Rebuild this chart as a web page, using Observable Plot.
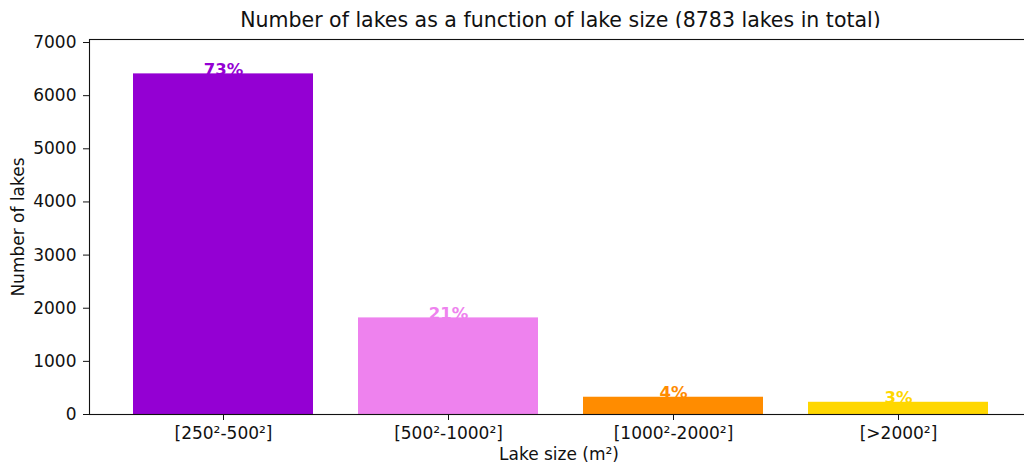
<!DOCTYPE html>
<html>
<head>
<meta charset="utf-8">
<script src="https://cdn.jsdelivr.net/npm/d3@7"></script>
<script src="https://cdn.jsdelivr.net/npm/@observablehq/plot@0.6"></script>
<style>
  html, body { margin: 0; padding: 0; background: #fff; overflow: hidden; }
  #wrap { width: 1024px; height: 465px; overflow: hidden; position: relative; font-family: "DejaVu Sans", sans-serif; }
  #title { position: absolute; left: 89px; width: 943px; top: 0; height: 28px; line-height: 41px; text-align: center; font-size: 20.5px; color: #111; white-space: nowrap; }
  #chart { position: absolute; left: 0; top: 28px; width: 1040px; }
  #chart svg { max-width: none !important; }
</style>
</head>
<body>
<div id="wrap">
  <div id="title">Number of lakes as a function of lake size (8783 lakes in total)</div>
  <div id="chart"></div>
</div>
<script>
const categories = ["[250²-500²]", "[500²-1000²]", "[1000²-2000²]", "[>2000²]"];
const counts = [6410, 1818, 325, 230];
const colors = ["#9400D3", "#EE82EE", "#FF8C00", "#FFD700"];
const yTicks = [0, 1000, 2000, 3000, 4000, 5000, 6000, 7000];
const total = 8783;

const data = categories.map((c, i) => ({
  cat: c,
  count: counts[i],
  pct: Math.round(counts[i] / total * 100) + "%"
}));

const chart = Plot.plot({
  width: 1040,
  height: 437,
  marginLeft: 89,
  marginRight: 8,
  marginTop: 11,
  marginBottom: 51,
  style: { fontFamily: "DejaVu Sans, sans-serif", fontSize: "17px", color: "#111", background: "white", overflow: "visible", maxWidth: "none" },
  x: { domain: categories, paddingInner: 0.2, paddingOuter: 0.19, label: null },
  y: { domain: [0, 7057], label: null },
  color: { domain: categories, range: colors },
  marks: [
    Plot.barY(data, { x: "cat", y: "count", fill: "cat" }),
    Plot.text(data, { x: "cat", y: "count", text: "pct", fill: "cat", fontWeight: "bold", fontSize: 16.5, lineAnchor: "bottom", dy: 1 }),
    Plot.frame({ stroke: "#111", strokeWidth: 1.1 }),
    Plot.axisY({ ticks: yTicks, tickFormat: d3.format("d"), tickSize: 6, tickPadding: 7, label: null, fontSize: 17 }),
    Plot.axisX({ tickSize: 6, tickPadding: 6, label: null, fontSize: 17 }),
    Plot.text(["Number of lakes"], { frameAnchor: "left", textAnchor: "middle", rotate: -90, dx: -71, fontSize: 17, fill: "#111" }),
    Plot.text(["Lake size (m²)"], { frameAnchor: "bottom", dy: 45, fontSize: 17, fill: "#111", dx: -2 })
  ]
});
document.getElementById("chart").appendChild(chart);
</script>
</body>
</html>
